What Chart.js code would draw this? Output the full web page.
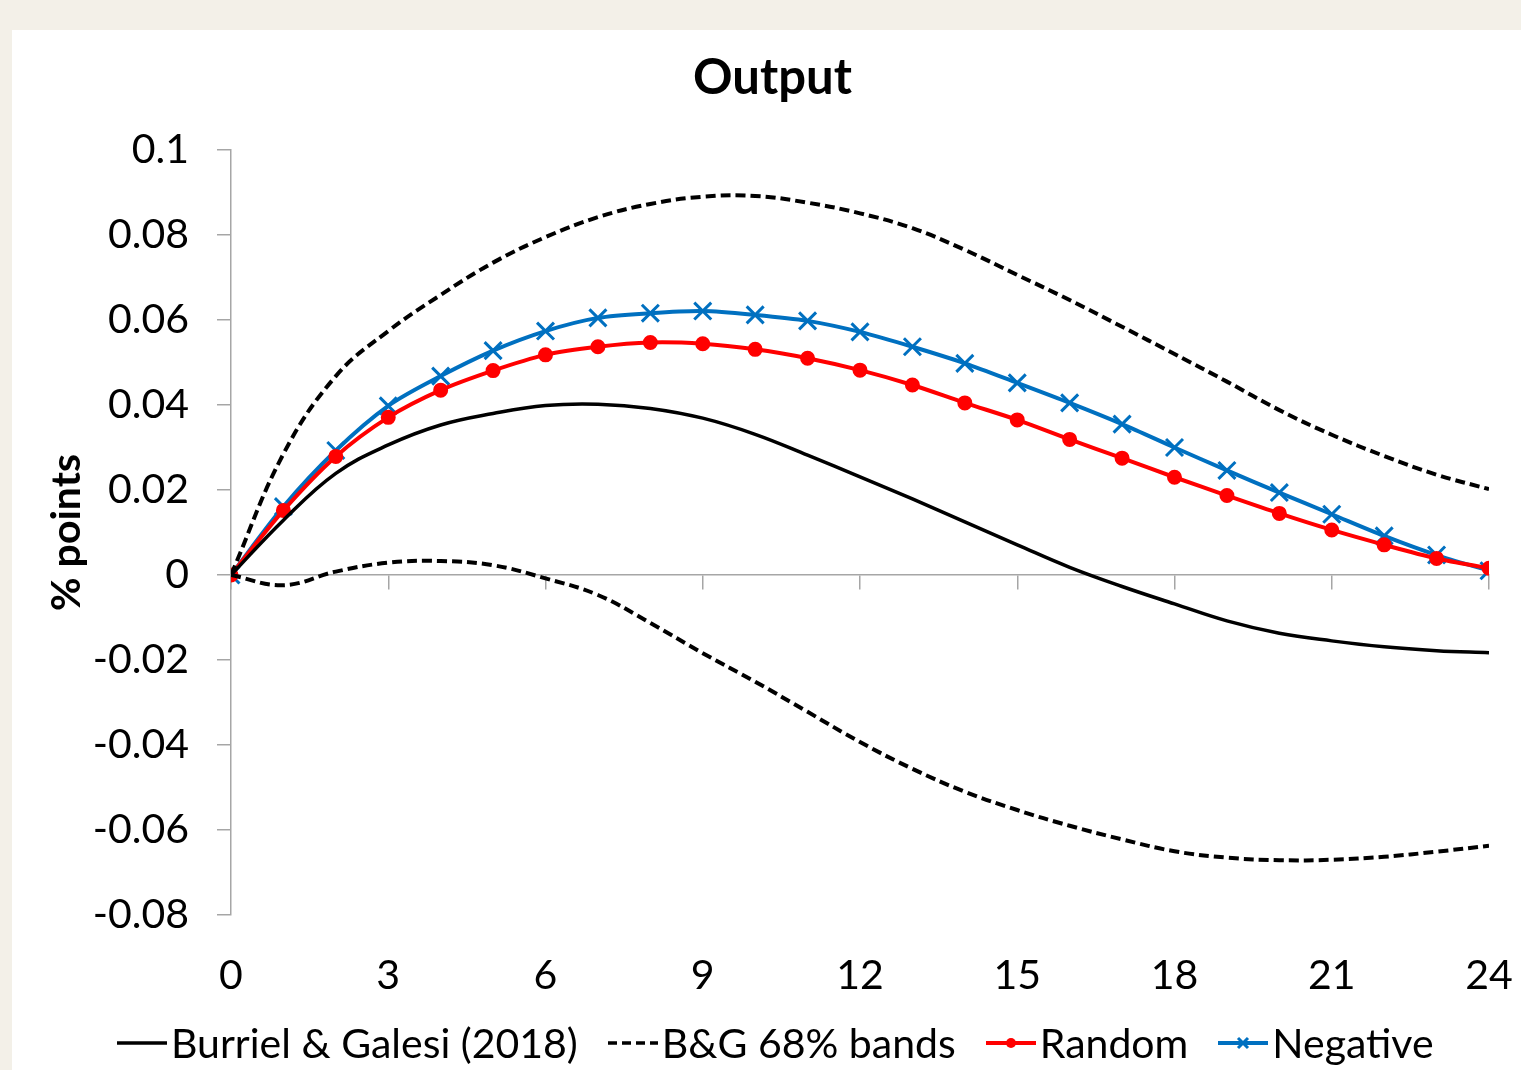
<!DOCTYPE html>
<html>
<head>
<meta charset="utf-8">
<script src="https://cdn.jsdelivr.net/npm/chart.js@4.4.0/dist/chart.umd.min.js"></script>
<style>
  html, body { margin: 0; padding: 0; background: #f3f0e8; }
  #panel { position: absolute; left: 12px; top: 30px; width: 1509px; height: 1040px; background: #fff; overflow: hidden; }
  #title { position: absolute; left: 6px; width: 1509px; top: 16px; text-align: center; font: bold 49px Lato, sans-serif; color: #000; }
  #legend { position: absolute; left: 105px; top: 988px; display: flex; align-items: center; gap: 30px; font: 41px Lato, sans-serif; color: #000; white-space: nowrap; }
  #legend .item { display: flex; align-items: center; }
  #legend svg { margin-right: 4px; }
</style>
</head>
<body>
<div id="panel">
  <canvas id="chart" width="1509" height="1040"></canvas>
  <div id="title">Output</div>
  <div id="legend"></div>
</div>
<script>
// horizons 0..24
const horizons = Array.from({ length: 25 }, (_, i) => i);

const burriel = [0, 0.0129, 0.0239, 0.0306, 0.0353, 0.0380, 0.0399, 0.0402, 0.0392, 0.0369, 0.0331, 0.0282, 0.0231, 0.0179, 0.0125, 0.0071, 0.0018, -0.0027, -0.0068, -0.0108, -0.0137, -0.0155, -0.0169, -0.0178, -0.0183];
const bandUpper = [0, 0.0285, 0.0468, 0.0574, 0.0659, 0.0735, 0.0795, 0.0842, 0.0873, 0.0890, 0.0892, 0.0876, 0.0851, 0.0816, 0.0765, 0.0706, 0.0647, 0.0584, 0.0520, 0.0455, 0.0388, 0.0330, 0.0280, 0.0236, 0.0202];
const bandLower = [0, -0.0024, 0.0008, 0.0029, 0.0033, 0.0023, -0.0008, -0.0047, -0.0113, -0.0184, -0.0251, -0.0322, -0.0393, -0.0456, -0.0510, -0.0553, -0.0590, -0.0622, -0.0650, -0.0665, -0.0671, -0.0670, -0.0663, -0.0651, -0.0637];
const random = [0, 0.0152, 0.0279, 0.0371, 0.0435, 0.0481, 0.0518, 0.0537, 0.0547, 0.0544, 0.0531, 0.0510, 0.0482, 0.0447, 0.0405, 0.0365, 0.0319, 0.0275, 0.0230, 0.0187, 0.0145, 0.0106, 0.0071, 0.0039, 0.0016];
const negative = [0, 0.0161, 0.0293, 0.0398, 0.0468, 0.0528, 0.0574, 0.0605, 0.0616, 0.0621, 0.0612, 0.0598, 0.0572, 0.0537, 0.0498, 0.0452, 0.0405, 0.0355, 0.0300, 0.0246, 0.0194, 0.0143, 0.0092, 0.0047, 0.0010];

const xTicks = [0, 3, 6, 9, 12, 15, 18, 21, 24];
const yTicks = [0.1, 0.08, 0.06, 0.04, 0.02, 0, -0.02, -0.04, -0.06, -0.08];

const legendLabels = ["Burriel & Galesi (2018)", "B&G 68% bands", "Random", "Negative"];

const pts = (arr) => arr.map((v, i) => ({ x: horizons[i], y: v }));
const axisGrey = "#a6a6a6";
const tickFont = { family: "Lato", size: 41 };
// keep the end labels from shrinking the plot
const noSidePadding = (s) => { s.paddingLeft = 0; s.paddingRight = 0; };

const chartData = {
  datasets: [
    { label: legendLabels[0], data: pts(burriel), borderColor: "#000", borderWidth: 3.5, pointRadius: 0, tension: 0.4 },
    { label: legendLabels[1], data: pts(bandUpper), borderColor: "#000", borderWidth: 4, borderDash: [10, 5], pointRadius: 0, tension: 0.4 },
    { label: legendLabels[1], data: pts(bandLower), borderColor: "#000", borderWidth: 4, borderDash: [10, 5], pointRadius: 0, tension: 0.4 },
    { label: legendLabels[2], data: pts(random), borderColor: "#ff0000", backgroundColor: "#ff0000", borderWidth: 4, pointRadius: 5.5, pointStyle: "circle", tension: 0.3 },
    { label: legendLabels[3], data: pts(negative), borderColor: "#0070c0", backgroundColor: "#0070c0", borderWidth: 4, pointRadius: 12, pointBorderWidth: 3, pointStyle: "crossRot", tension: 0.3 },
  ],
};

const chartConfig = {
  type: "line",
  data: chartData,
  options: {
    responsive: false,
    animation: false,
    devicePixelRatio: 1,
    layout: { padding: { top: 120, right: 32, bottom: 65, left: 0 } },
    plugins: { legend: { display: false }, tooltip: { enabled: false } },
    scales: {
      x: {
        type: "linear", min: 0, max: 24,
        position: { y: 0 },
        afterBuildTicks: (s) => { s.ticks = xTicks.map((v) => ({ value: v })); },
        ticks: { display: false },
        grid: { drawOnChartArea: false, drawTicks: true, tickLength: 14, color: axisGrey, lineWidth: 1.5 },
        border: { color: axisGrey, width: 1.5 },
        afterFit: noSidePadding,
      },
      xb: {
        type: "linear", axis: "x", min: 0, max: 24, position: "bottom",
        afterBuildTicks: (s) => { s.ticks = xTicks.map((v) => ({ value: v })); },
        ticks: { font: tickFont, color: "#000", padding: 28, maxRotation: 0, autoSkip: false },
        grid: { display: false },
        border: { display: false },
        afterFit: (s) => { s.height = 90; noSidePadding(s); },
      },
      y: {
        min: -0.08, max: 0.1,
        afterBuildTicks: (s) => { s.ticks = yTicks.map((v) => ({ value: v })); },
        ticks: { font: tickFont, color: "#000", padding: 28, callback: (v) => String(Math.round(v * 100) / 100) },
        grid: { drawOnChartArea: false, drawTicks: true, tickLength: 14, color: axisGrey, lineWidth: 1.5 },
        border: { color: axisGrey, width: 1.5 },
        title: { display: true, text: "% points", font: { family: "Lato", size: 41, weight: "bold" }, color: "#000", padding: { top: 30, bottom: 0 } },
        afterFit: (s) => { s.width = 219; },
      },
    },
  },
};

new Chart(document.getElementById("chart").getContext("2d"), chartConfig);

// legend with line + marker samples
const legendSamples = [
  '<line x1="0" y1="12" x2="50" y2="12" stroke="#000" stroke-width="3.5"/>',
  '<line x1="0" y1="12" x2="50" y2="12" stroke="#000" stroke-width="3.5" stroke-dasharray="9,5"/>',
  '<line x1="0" y1="12" x2="50" y2="12" stroke="#ff0000" stroke-width="4"/><circle cx="25" cy="12" r="5" fill="#ff0000"/>',
  '<line x1="0" y1="12" x2="50" y2="12" stroke="#0070c0" stroke-width="4"/><path d="M20 7 L30 17 M30 7 L20 17" stroke="#0070c0" stroke-width="3"/>',
];
const legendEl = document.getElementById("legend");
legendLabels.forEach((label, i) => {
  const item = document.createElement("div");
  item.className = "item";
  item.innerHTML = '<svg width="50" height="24">' + legendSamples[i] + "</svg>";
  const span = document.createElement("span");
  span.textContent = label;
  item.appendChild(span);
  legendEl.appendChild(item);
});
</script>
</body>
</html>
